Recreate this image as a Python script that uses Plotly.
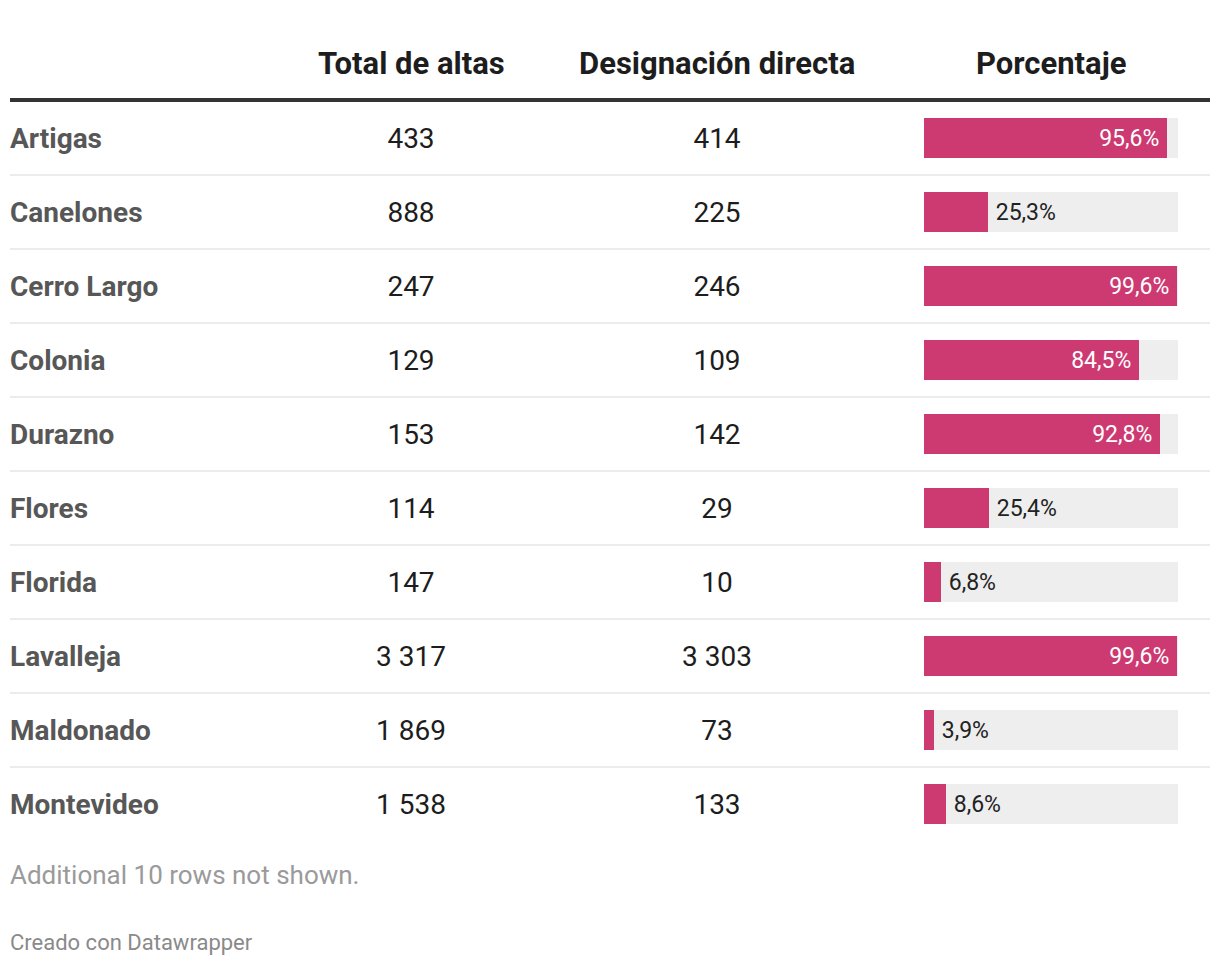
import plotly.graph_objects as go

# ---- data ----
departamentos = ["Artigas", "Canelones", "Cerro Largo", "Colonia", "Durazno",
                 "Flores", "Florida", "Lavalleja", "Maldonado", "Montevideo"]
total_altas = [433, 888, 247, 129, 153, 114, 147, 3317, 1869, 1538]
designacion_directa = [414, 225, 246, 109, 142, 29, 10, 3303, 73, 133]
porcentaje = [95.6, 25.3, 99.6, 84.5, 92.8, 25.4, 6.8, 99.6, 3.9, 8.6]
headers = ["Total de altas", "Designación directa", "Porcentaje"]

W, H = 1220, 966
ROW_H = 74
ROW0 = 138  # pixel centre of first row
TEXT_DY = 3 / ROW_H  # small baseline nudge for text columns

def fmt(n):
    return f"{n:,}".replace(",", " ")

def fmt_pct(p):
    return f"{p:.1f}%".replace(".", ",")

rows = list(range(len(departamentos)))
text_rows = [r + TEXT_DY for r in rows]
y_top = (0 - ROW0) / ROW_H
y_bot = (H - ROW0) / ROW_H

FONT = "Roboto"
BAR_COLOR = "#cc3a71"
BG_COLOR = "#eeeeee"

fig = go.Figure()

# text columns
fig.add_trace(go.Scatter(
    x=[10] * len(rows), y=text_rows, mode="text", xaxis="x", yaxis="y",
    text=departamentos, textposition="middle right",
    textfont=dict(family=FONT, size=28, color="#575757", weight="bold"),
    hoverinfo="skip", showlegend=False,
))
fig.add_trace(go.Scatter(
    x=[411] * len(rows), y=text_rows, mode="text", xaxis="x", yaxis="y",
    text=[fmt(v) for v in total_altas], textposition="middle center",
    textfont=dict(family=FONT, size=28, color="#1d1d1d"),
    hoverinfo="skip", showlegend=False,
))
fig.add_trace(go.Scatter(
    x=[717] * len(rows), y=text_rows, mode="text", xaxis="x", yaxis="y",
    text=[fmt(v) for v in designacion_directa], textposition="middle center",
    textfont=dict(family=FONT, size=28, color="#1d1d1d"),
    hoverinfo="skip", showlegend=False,
))

# background bars (100%)
fig.add_trace(go.Bar(
    y=rows, x=[100] * len(rows), orientation="h",
    xaxis="x2", yaxis="y", width=40 / ROW_H,
    marker=dict(color=BG_COLOR, line=dict(width=0)),
    hoverinfo="skip", showlegend=False,
))

inside = [p >= 50 for p in porcentaje]
fig.add_trace(go.Bar(
    y=rows, x=porcentaje, orientation="h",
    xaxis="x2", yaxis="y", width=40 / ROW_H,
    marker=dict(color=BAR_COLOR, line=dict(width=0)),
    text=[fmt_pct(p) + "\u2009" if i else "\u2009" + fmt_pct(p)
          for p, i in zip(porcentaje, inside)],
    textposition=["inside" if i else "outside" for i in inside],
    insidetextanchor="end",
    insidetextfont=dict(family=FONT, size=23, color="white"),
    outsidetextfont=dict(family=FONT, size=23, color="#222222"),
    textangle=0, cliponaxis=False, constraintext="none",
    hoverinfo="skip", showlegend=False,
))

annotations = []
for h, xc in zip(headers, [411, 717, 1051]):
    annotations.append(dict(
        x=xc, y=(63 - ROW0) / ROW_H, xref="x", yref="y", text=h, showarrow=False,
        font=dict(family=FONT, size=31, color="#1d1d1d", weight="bold"),
        xanchor="center", yanchor="middle",
    ))
annotations.append(dict(
    x=8, y=(875 - ROW0) / ROW_H, xref="x", yref="y",
    text="Additional 10 rows not shown.", showarrow=False,
    font=dict(family=FONT, size=26, color="#9a9a9a"),
    xanchor="left", yanchor="middle",
))
annotations.append(dict(
    x=8, y=(942 - ROW0) / ROW_H, xref="x", yref="y",
    text="Creado con Datawrapper", showarrow=False,
    font=dict(family=FONT, size=22, color="#8a8a8a"),
    xanchor="left", yanchor="middle",
))

shapes = [dict(type="line", xref="x", yref="y", x0=10, x1=1210,
               y0=-0.5 - 1 / ROW_H, y1=-0.5 - 1 / ROW_H,
               line=dict(color="#333333", width=4))]
for i in rows[:-1]:
    shapes.append(dict(type="line", xref="x", yref="y", x0=10, x1=1210,
                       y0=i + 0.5, y1=i + 0.5,
                       line=dict(color="#ececec", width=2)))

fig.update_layout(
    width=W, height=H,
    margin=dict(l=0, r=0, t=0, b=0),
    paper_bgcolor="white", plot_bgcolor="rgba(0,0,0,0)",
    barmode="overlay", bargap=0,
    xaxis=dict(range=[0, W], domain=[0, 1], visible=False, fixedrange=True),
    xaxis2=dict(range=[0, 100], domain=[924 / W, 1178 / W], visible=False,
                anchor="y", fixedrange=True),
    yaxis=dict(range=[y_bot, y_top], visible=False, fixedrange=True),
    annotations=annotations, shapes=shapes,
    font=dict(family=FONT),
)

fig.write_html("out.html", config={"displayModeBar": False},
               post_script="document.body.style.margin='0';document.body.style.padding='0';")
